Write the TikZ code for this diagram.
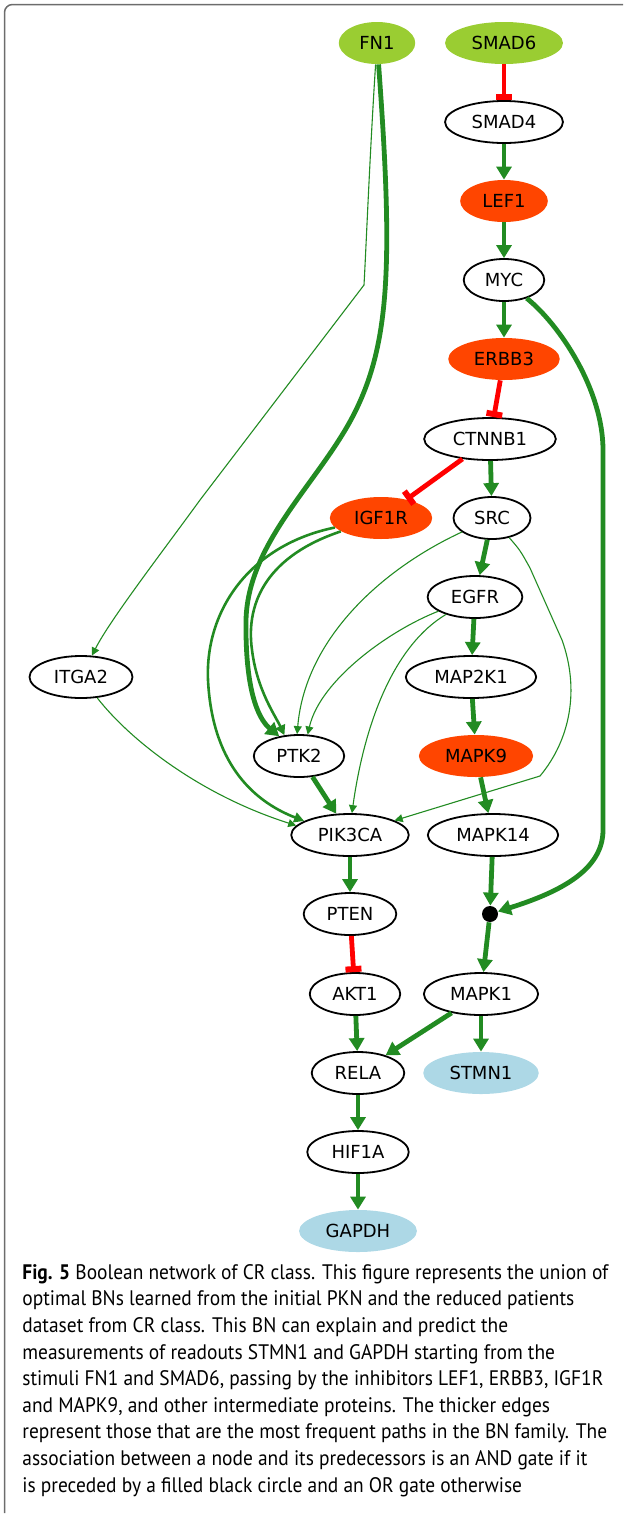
\documentclass[tikz,border=0pt]{standalone}
\usepackage{fontspec}
\setmainfont{DejaVu Sans}
\newfontfamily\capfont[FakeStretch=0.925]{PT Sans}
\usetikzlibrary{arrows.meta, positioning, shapes.geometric}

\definecolor{actgreen}{HTML}{228B22}
\definecolor{inhred}{HTML}{FF0000}
\definecolor{inhcol}{HTML}{FF4500}
\definecolor{stimcol}{HTML}{9ACD32}
\definecolor{readcol}{HTML}{ADD8E6}

\begin{document}
\begin{tikzpicture}[
    x=0.5pt, y=-0.5pt,
    node distance={39.5pt},
    protein/.style={ellipse, inner xsep=4.7pt, inner ysep=0pt, minimum height=21pt,
        font=\fontsize{9}{11}\selectfont},
    plain/.style={protein, draw=black, line width=0.9pt, fill=white},
    stimulus/.style={protein, fill=stimcol},
    inhibitor/.style={protein, fill=inhcol},
    readout/.style={protein, fill=readcol},
    gate/.style={circle, fill=black, inner sep=0pt, minimum size=8pt},
    act/.style={draw=actgreen, line width=2.4pt, -{Triangle[length=6.5pt, width=7.5pt]}},
    act mid/.style={draw=actgreen, line width=1.3pt, -{Triangle[length=5pt, width=5pt]}},
    act thin/.style={draw=actgreen, line width=0.55pt, -{Triangle[length=4pt, width=4pt]}},
    inh/.style={draw=inhred, line width=2.4pt, -{Rectangle[length=3pt, width=8pt]}}
]

\useasboundingbox (0,0) rectangle (623,1516);
\draw[gray!85!black, line width=0.75pt, rounded corners=4pt] (4.5,1513) |- (623,4.5);

\node[stimulus] (FN1) at (377,43) {FN1};
\node[stimulus] (SMAD6) at (504,43) {SMAD6};
\node[plain] (SMAD4) [below of=SMAD6] {SMAD4};
\node[inhibitor] (LEF1) [below of=SMAD4] {LEF1};
\node[plain] (MYC) [below of=LEF1] {MYC};
\node[inhibitor] (ERBB3) [below of=MYC] {ERBB3};
\node[plain] (CTNNB1) at (490,439) {CTNNB1};
\node[inhibitor] (IGF1R) at (381,518) {IGF1R};
\node[plain] (SRC) at (492,518) {SRC};
\node[plain] (EGFR) at (475,597) {EGFR};
\node[plain] (ITGA2) at (81,677) {ITGA2};
\node[plain] (MAP2K1) at (471,677) {MAP2K1};
\node[plain] (PTK2) at (299,756) {PTK2};
\node[inhibitor] (MAPK9) at (476,756) {MAPK9};
\node[plain] (PIK3CA) at (350,835) {PIK3CA};
\node[plain] (MAPK14) at (493,835) {MAPK14};
\node[gate] (and1) at (490,914) {};
\node[plain] (PTEN) [below of=PIK3CA] {PTEN};
\node[plain] (AKT1) at (355,994) {AKT1};
\node[plain] (MAPK1) at (481,994) {MAPK1};
\node[plain] (RELA) at (358,1073) {RELA};
\node[readout] (STMN1) [below of=MAPK1] {STMN1};
\node[plain] (HIF1A) [below of=RELA] {HIF1A};
\node[readout] (GAPDH) [below of=HIF1A] {GAPDH};

\path
    (SMAD6) edge [inh] (SMAD4)
    (SMAD4) edge [act] (LEF1)
    (LEF1) edge [act] (MYC)
    (MYC) edge [act] (ERBB3)
    (ERBB3) edge [inh] (CTNNB1)
    (CTNNB1) edge [inh] (IGF1R)
    (CTNNB1) edge [act] (SRC)
    (SRC) edge [act] (EGFR)
    (EGFR) edge [act] (MAP2K1)
    (MAP2K1) edge [act] (MAPK9)
    (MAPK9) edge [act] (MAPK14)
    (MAPK14) edge [act] (and1)
    (and1) edge [act] (MAPK1)
    (PTK2) edge [act] (PIK3CA)
    (PIK3CA) edge [act] (PTEN)
    (PTEN) edge [inh] (AKT1)
    (AKT1) edge [act] (RELA)
    (MAPK1) edge [act] (RELA)
    (MAPK1) edge [act] (STMN1)
    (RELA) edge [act] (HIF1A)
    (HIF1A) edge [act] (GAPDH)
    ;

\draw[act] (MYC) .. controls (560,325) and (603,390) .. (603,450) -- (603,830)
    .. controls (603,870) and (560,892) .. (and1);
\draw[act] (FN1) .. controls (393,260) and (390,340) .. (356,410)
    .. controls (322,480) and (248,540) .. (246,620)
    .. controls (245,700) and (262,722) .. (PTK2.135);
\draw[act thin] (FN1) .. controls (370,150) and (366,250) .. (364,285) -- (200,500)
    .. controls (160,555) and (110,620) .. (ITGA2);
\draw[act mid] (IGF1R) .. controls (270,555) and (245,600) .. (252,650)
    .. controls (257,690) and (275,715) .. (PTK2.125);
\draw[act mid] (IGF1R) .. controls (250,545) and (205,610) .. (208,680)
    .. controls (212,760) and (250,800) .. (PIK3CA.163);
\draw[act thin] (ITGA2) .. controls (130,740) and (200,795) .. (PIK3CA.170);
\draw[act thin] (SRC) .. controls (380,570) and (305,640) .. (PTK2.95);
\draw[act thin] (EGFR) .. controls (390,630) and (320,680) .. (PTK2.68);
\draw[act thin] (EGFR) .. controls (395,645) and (365,720) .. (PIK3CA.85);
\draw[act thin] (SRC) .. controls (520,550) .. (530,568) -- (562,640)
    .. controls (580,690) and (570,740) .. (540,776) -- (PIK3CA.18);

\node[anchor=north west, inner sep=0pt, align=left,
    font=\capfont\fontsize{10.5}{13.3}\selectfont] (caption) at (22,1264)
    {\textbf{Fig. 5} Boolean network of CR class. This figure represents the union of\\
    optimal BNs learned from the initial PKN and the reduced patients\\
    dataset from CR class. This BN can explain and predict the\\
    measurements of readouts STMN1 and GAPDH starting from the\\
    stimuli FN1 and SMAD6, passing by the inhibitors LEF1, ERBB3, IGF1R\\
    and MAPK9, and other intermediate proteins. The thicker edges\\
    represent those that are the most frequent paths in the BN family. The\\
    association between a node and its predecessors is an AND gate if it\\
    is preceded by a filled black circle and an OR gate otherwise};

\end{tikzpicture}
\end{document}
